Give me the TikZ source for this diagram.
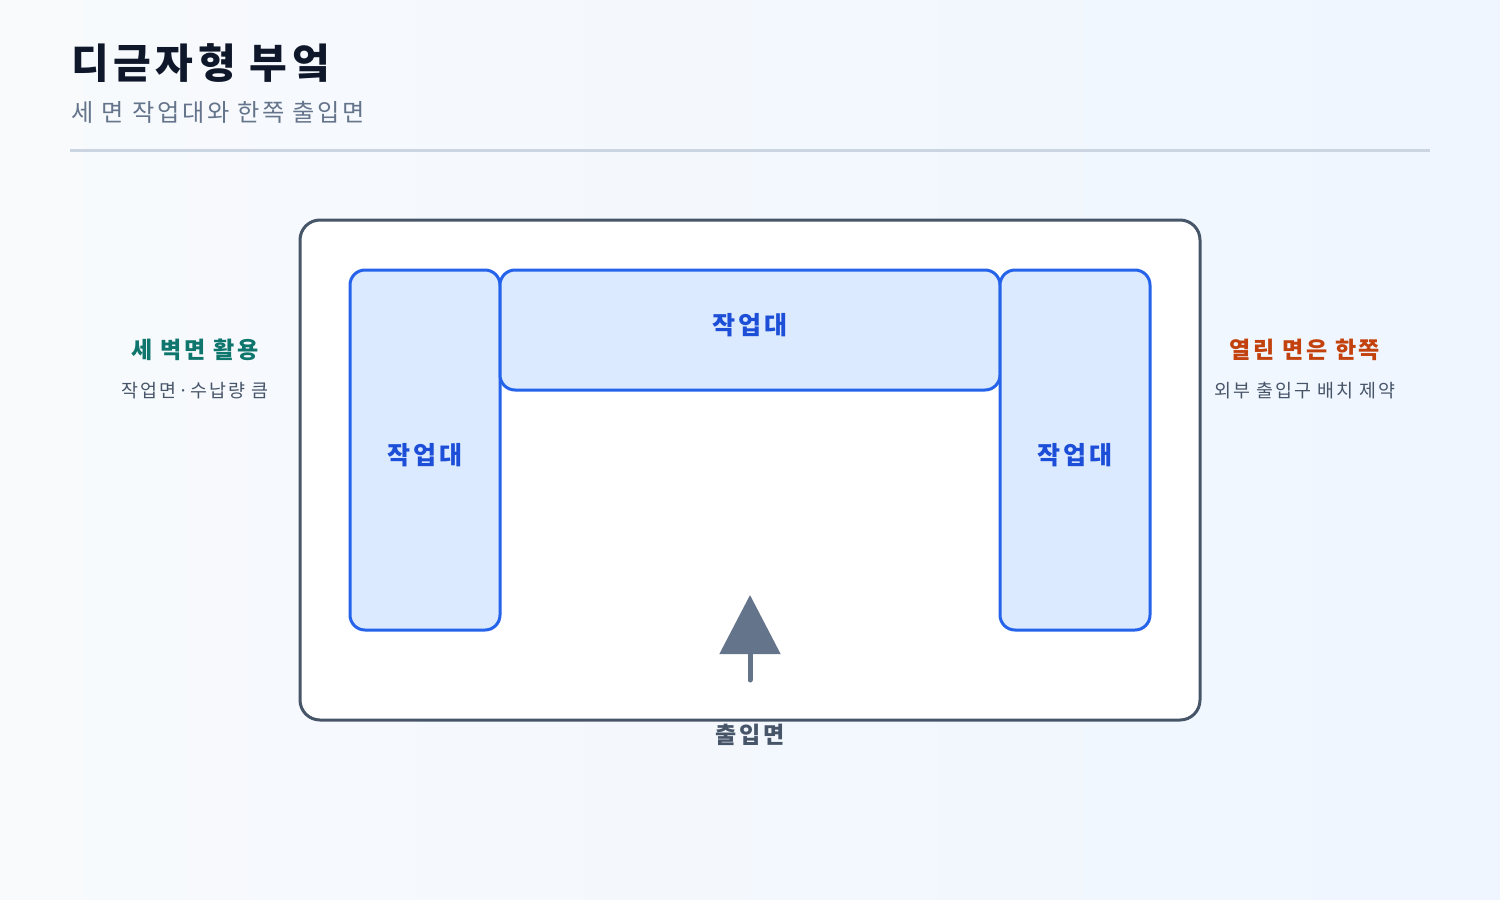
\documentclass[tikz,border=0pt]{standalone}
\usepackage{fontspec}
\newfontfamily\kr[LetterSpace=11]{Noto Sans CJK KR}
\usetikzlibrary{positioning,arrows.meta}
\definecolor{bgTop}{HTML}{F8FAFC}
\definecolor{bgBottom}{HTML}{EFF6FF}
\definecolor{titleInk}{HTML}{0F172A}
\definecolor{subInk}{HTML}{64748B}
\definecolor{ruleInk}{HTML}{CBD5E1}
\definecolor{roomInk}{HTML}{475569}
\definecolor{benchLine}{HTML}{2563EB}
\definecolor{benchFill}{HTML}{DBEAFE}
\definecolor{benchInk}{HTML}{1D4ED8}
\definecolor{goodInk}{HTML}{0F766E}
\definecolor{badInk}{HTML}{C2410C}
\tikzset{
    benchBox/.style={draw=benchLine,fill=benchFill,line width=3pt,rounded corners=15pt,outer sep=0pt,inner sep=0pt},
    noteHead/.style={font=\kr\bfseries\fontsize{23}{26}\selectfont},
    noteText/.style={text=roomInk,font=\kr\fontsize{18.4}{22}\selectfont},
}
\begin{document}
\begin{tikzpicture}[x=1pt,y=-1pt]
        \def\benchW{150}
        \def\benchH{360}
        \def\topW{500}
        \def\topH{120}
        \useasboundingbox (0,0) rectangle (1500,900);
        \shade[left color=bgTop,right color=bgBottom] (0,0) rectangle (1500,900);

        \node[anchor=base west,text=titleInk,font=\kr\bfseries\fontsize{41}{46}\selectfont] (title) at (68,78) {디귿자형 부엌};
        \node[anchor=base west,text=subInk,font=\kr\fontsize{24.2}{28}\selectfont] (subtitle) at (68,121) {세 면 작업대와 한쪽 출입면};
        \draw[ruleInk,line width=3pt] (70,150) -- (1430,150);

        \node[draw=roomInk,fill=white,line width=3pt,rounded corners=20pt,outer sep=0pt,
            minimum width=900pt,minimum height=500pt] (room) at (750,470) {};

        \node[benchBox,minimum width=\benchW pt,minimum height=\benchH pt,anchor=north west] (leftBench) at (350,270) {};
        \node[benchBox,minimum width=\topW pt,minimum height=\topH pt,anchor=north west] (topBench) at (leftBench.north east) {};
        \node[benchBox,minimum width=\benchW pt,minimum height=\benchH pt,anchor=north west] (rightBench) at (topBench.north east) {};
        \foreach \b\y in {leftBench/455,topBench/325,rightBench/455} {
                \node[text=benchInk,font=\kr\bfseries\fontsize{25}{28}\selectfont] (\b Label) at (\b.center |- 0,\y) {작업대};
            }

        \coordinate (doorFoot) at (750,680);
        \coordinate (doorTip) at (750,595);
        \draw[subInk,line width=5pt,line cap=round,-{Triangle[width=60pt,length=59pt]}] (doorFoot) -- (doorTip);
        \node[text=roomInk,font=\kr\bfseries\fontsize{23}{26}\selectfont] (doorLabel) at (750,735) {출입면};

        \node[noteHead,text=goodInk] (goodHead) at (195,350) {세 벽면 활용};
        \node[noteText] (goodText) at (195,391) {작업면·수납량 큼};
        \node[noteHead,text=badInk] (badHead) at (1305,350) {열린 면은 한쪽};
        \node[noteText] (badText) at (1305,391) {외부 출입구 배치 제약};
    \end{tikzpicture}
\end{document}
